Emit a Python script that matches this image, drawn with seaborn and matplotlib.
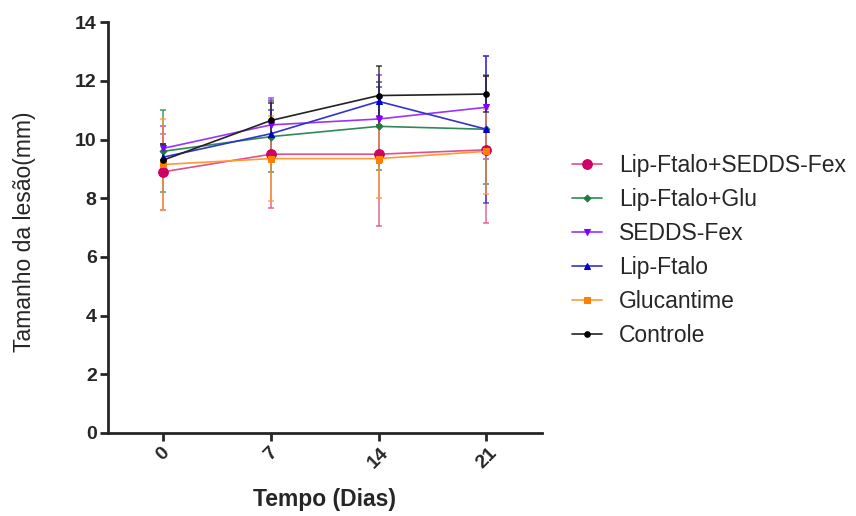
import matplotlib
matplotlib.use("Agg")
import matplotlib.pyplot as plt
import seaborn as sns
import pandas as pd
import numpy as np

days = [0, 7, 14, 21]
groups = ["Lip-Ftalo+SEDDS-Fex", "Lip-Ftalo+Glu", "SEDDS-Fex", "Lip-Ftalo", "Glucantime", "Controle"]
mean_lip_sedds = [8.9, 9.5, 9.5, 9.65]
mean_lip_glu = [9.6, 10.1, 10.45, 10.35]
mean_sedds = [9.7, 10.5, 10.7, 11.1]
mean_lip = [9.4, 10.2, 11.3, 10.35]
mean_gluc = [9.15, 9.35, 9.35, 9.6]
mean_ctrl = [9.3, 10.65, 11.5, 11.55]
sd_lip_sedds = [1.3, 1.85, 2.45, 2.5]
sd_lip_glu = [1.4, 1.2, 1.5, 1.85]
sd_sedds = [0.75, 0.9, 1.5, 1.75]
sd_lip = [0.45, 0.8, 0.5, 2.5]
sd_gluc = [1.55, 1.45, 1.35, 1.45]
sd_ctrl = [0.55, 0.6, 1.0, 0.6]

means = [mean_lip_sedds, mean_lip_glu, mean_sedds, mean_lip, mean_gluc, mean_ctrl]
sds = [sd_lip_sedds, sd_lip_glu, sd_sedds, sd_lip, sd_gluc, sd_ctrl]
line_colors = ["#E0508A", "#2E8B57", "#9933FF", "#3333CC", "#FF9933", "#222222"]
marker_colors = ["#CC0066", "#1F7A3F", "#8000FF", "#0000CC", "#FF8000", "#000000"]
markers = ["o", "D", "v", "^", "s", "o"]
msizes = [7, 3.5, 5, 5, 5, 4]

rows = []
for g, m in zip(groups, means):
    for d, v in zip(days, m):
        rows.append({"Dia": d, "Valor": v, "Grupo": g})
df = pd.DataFrame(rows)

sns.set_style("ticks")
plt.rcParams["font.family"] = ["Liberation Sans", "DejaVu Sans"]

fig = plt.figure(figsize=(8.56, 5.16), dpi=100)
ax = fig.add_axes([0.126, 0.161, 0.507, 0.796])

for i, g in enumerate(groups):
    sub = df[df["Grupo"] == g]
    ax.errorbar(sub["Dia"], sub["Valor"], yerr=sds[i], fmt="none",
                ecolor=line_colors[i], elinewidth=1.2, capsize=2.5, capthick=1.2,
                alpha=0.8, zorder=2)
    sns.lineplot(data=sub, x="Dia", y="Valor", ax=ax, color=line_colors[i],
                 marker=markers[i], markersize=msizes[i], markerfacecolor=marker_colors[i],
                 markeredgecolor=marker_colors[i], linewidth=1.2, label=g, zorder=3,
                 errorbar=None)

ax.set_xlim(-3.6, 24.6)
ax.set_ylim(0, 14)
ax.set_xticks(days)
ax.set_xticklabels([str(d) for d in days], rotation=45, fontweight="bold", fontsize=14)
ax.set_yticks(range(0, 15, 2))
ax.set_yticklabels([str(v) for v in range(0, 15, 2)], fontweight="bold", fontsize=14)
ax.set_xlabel("Tempo (Dias)", fontweight="bold", fontsize=16.5)
ax.set_ylabel("Tamanho da lesão(mm)", fontsize=16.5)
ax.xaxis.set_label_coords(0.5, -0.134)
ax.yaxis.set_label_coords(-0.165, 0.49)
for s in ["left", "bottom"]:
    ax.spines[s].set_linewidth(2)
sns.despine(ax=ax)
ax.tick_params(axis="both", width=2, length=6, pad=2)

ax.legend(loc="center left", bbox_to_anchor=(1.069, 0.443), frameon=False,
          borderaxespad=0, borderpad=0,
          fontsize=16.5, labelspacing=0.48, handlelength=1.3, handletextpad=0.75)

fig.savefig("out.png", dpi=100)
